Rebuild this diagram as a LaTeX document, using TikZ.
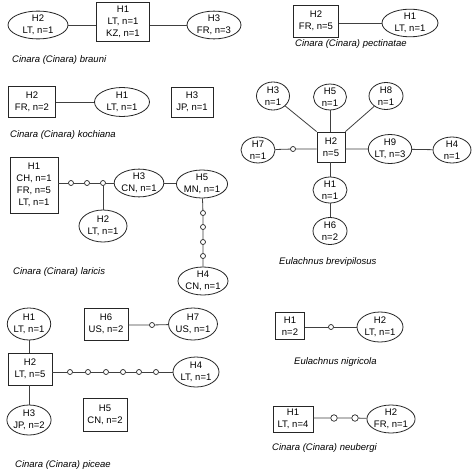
\documentclass[tikz,border=0pt]{standalone}
\usepackage{fontspec}
\setmainfont{Liberation Sans}
\usetikzlibrary{shapes.geometric}
\begin{document}
\begin{tikzpicture}[x=1pt,y=-1pt,
  base/.style={draw=black!85,line width=0.8pt,inner sep=0pt,align=center,font=\fontsize{9.5}{11.8}\selectfont},
  ell/.style={base,ellipse},
  box/.style={base,rectangle},
  dot/.style={circle,draw=black!85,line width=0.7pt,fill=white,minimum size=5pt,inner sep=0pt},
  bigdot/.style={dot,minimum size=6.5pt},
  conn/.style={draw=black!75,line width=0.8pt},
  captxt/.style={font=\fontsize{9.5}{11}\selectfont\itshape,anchor=west,inner sep=0pt}]
\useasboundingbox[fill=white] (0,0) rectangle (474,476);

% brauni
\node[ell,minimum width=60,minimum height=24] (bH2) at (38,25) {H2\\LT, n=1};
\node[box,minimum width=53,minimum height=39] (bH1) at (123,22) {H1\\LT, n=1\\KZ, n=1};
\node[ell,minimum width=54,minimum height=24] (bH3) at (214,25) {H3\\FR, n=3};
\draw[conn] (bH2) -- (bH2 -| bH1.west);
\draw[conn] (bH1.east |- bH3) -- (bH3);
\node[captxt] (bcap) at (12,60) {Cinara (Cinara) brauni};

% pectinatae
\node[box,minimum width=45,minimum height=32] (pH2) at (316,21) {H2\\FR, n=5};
\node[ell,minimum width=56,minimum height=26] (pH1) at (410,23) {H1\\LT, n=1};
\draw[conn] (pH2.east |- pH1) -- (pH1);
\node[captxt] (pcap) at (295,44) {Cinara (Cinara) pectinatae};

% kochiana
\node[box,minimum width=47,minimum height=31] (kH2) at (32,102) {H2\\FR, n=2};
\node[ell,minimum width=55,minimum height=29] (kH1) at (122,102) {H1\\LT, n=1};
\node[box,minimum width=42,minimum height=30] (kH3) at (192,102) {H3\\JP, n=1};
\draw[conn] (kH2) -- (kH1);
\node[captxt] (kcap) at (10,135) {Cinara (Cinara) kochiana};

% brevipilosus
\node[box,minimum width=28,minimum height=30] (eH2) at (331,147) {H2\\n=5};
\node[ell,minimum width=33,minimum height=28] (eH3) at (273,96) {H3\\n=1};
\node[ell,minimum width=33,minimum height=25] (eH5) at (330,97) {H5\\n=1};
\node[ell,minimum width=34,minimum height=27] (eH8) at (386,96) {H8\\n=1};
\node[ell,minimum width=34,minimum height=25] (eH7) at (258,150) {H7\\n=1};
\node[dot] (ed1) at (293,149) {};
\node[ell,minimum width=41,minimum height=29] (eH9) at (390,149) {H9\\LT, n=3};
\node[ell,minimum width=38,minimum height=26] (eH4) at (452,150) {H4\\n=1};
\node[ell,minimum width=34,minimum height=26] (eH1) at (330,190) {H1\\n=1};
\node[ell,minimum width=34,minimum height=27] (eH6) at (330,231) {H6\\n=2};
\draw[conn] (eH3) -- (eH2.north west);
\draw[conn] (eH5) -- (eH5 |- eH2.north);
\draw[conn] (eH8) -- (eH2.north east);
\draw[conn] (eH7) -- (ed1) -- (ed1 -| eH2.west);
\draw[conn] (eH2.east |- eH9) -- (eH9) -- (eH4);
\draw[conn] (eH1 |- eH2.south) -- (eH1) -- (eH6);
\node[captxt] (ecap) at (279,262) {Eulachnus brevipilosus};

% laricis
\node[box,minimum width=48,minimum height=56] (lH1) at (34,185) {H1\\CH, n=1\\FR, n=5\\LT, n=1};
\node[dot] (ld1) at (71,183) {};
\node[dot] (ld2) at (87,183) {};
\node[dot] (ld3) at (103,183) {};
\node[ell,minimum width=48,minimum height=25] (lH3) at (139,183) {H3\\CN, n=1};
\node[ell,minimum width=48,minimum height=32] (lH2) at (103,226) {H2\\LT, n=1};
\node[ell,minimum width=51,minimum height=28] (lH5) at (202,184) {H5\\MN, n=1};
\node[dot] (lv1) at (203,213) {};
\node[dot] (lv2) at (203,227) {};
\node[dot] (lv3) at (203,242) {};
\node[dot] (lv4) at (203,256) {};
\node[ell,minimum width=50,minimum height=28] (lH4) at (203,281) {H4\\CN, n=1};
\draw[conn] (lH1.east |- ld1) -- (ld1) -- (ld2) -- (ld3) -- (lH3);
\draw[conn] (ld3) -- (lH2);
\draw[conn] (lH3) -- (lH5);
\draw[conn] (lH5) -- (lv1) -- (lv2) -- (lv3) -- (lv4) -- (lH4);
\node[captxt] (lcap) at (13,272) {Cinara (Cinara) laricis};

% piceae
\node[ell,minimum width=42,minimum height=32] (cH1) at (29,324) {H1\\LT, n=1};
\node[box,minimum width=44,minimum height=32] (cH2) at (30,369) {H2\\LT, n=5};
\node[ell,minimum width=43,minimum height=30] (cH3) at (29,420) {H3\\JP, n=2};
\node[box,minimum width=44,minimum height=32] (cH6) at (106,324) {H6\\US, n=2};
\node[dot] (cd0) at (152,325) {};
\node[ell,minimum width=48,minimum height=32] (cH7) at (193,324) {H7\\US, n=1};
\node[dot] (cd1) at (70,372) {};
\node[dot] (cd2) at (88,372) {};
\node[dot] (cd3) at (106,372) {};
\node[dot] (cd4) at (123,372) {};
\node[dot] (cd5) at (139,372) {};
\node[dot] (cd6) at (156,372) {};
\node[ell,minimum width=46,minimum height=30] (cH4) at (196,372) {H4\\LT, n=1};
\node[box,minimum width=44,minimum height=33] (cH5) at (105,415) {H5\\CN, n=2};
\draw[conn] (cH1) -- (cH1 |- cH2.north);
\draw[conn] (cH3 |- cH2.south) -- (cH3);
\draw[conn] (cH6.east |- cd0) -- (cd0) -- (cH7);
\draw[conn] (cH2.east |- cd1) -- (cd1) -- (cd2) -- (cd3) -- (cd4) -- (cd5) -- (cd6) -- (cH4);
\node[captxt] (ccap) at (15,465) {Cinara (Cinara) piceae};

% nigricola
\node[box,minimum width=29,minimum height=27] (nH1) at (290,326) {H1\\n=2};
\node[dot] (nd1) at (331,327) {};
\node[ell,minimum width=46,minimum height=30] (nH2) at (380,327) {H2\\LT, n=1};
\draw[conn] (nH1.east |- nd1) -- (nd1) -- (nH2);
\node[captxt] (ncap) at (294,362) {Eulachnus nigricola};

% neubergi
\node[box,minimum width=40,minimum height=26] (uH1) at (293,419) {H1\\LT, n=4};
\node[bigdot] (ud1) at (334,418) {};
\node[bigdot] (ud2) at (355,418) {};
\node[ell,minimum width=47,minimum height=28] (uH2) at (391,419) {H2\\FR, n=1};
\draw[conn] (uH1.east |- ud1) -- (ud1) -- (ud2) -- (uH2);
\node[captxt] (ucap) at (272,448) {Cinara (Cinara) neubergi};
\end{tikzpicture}
\end{document}
